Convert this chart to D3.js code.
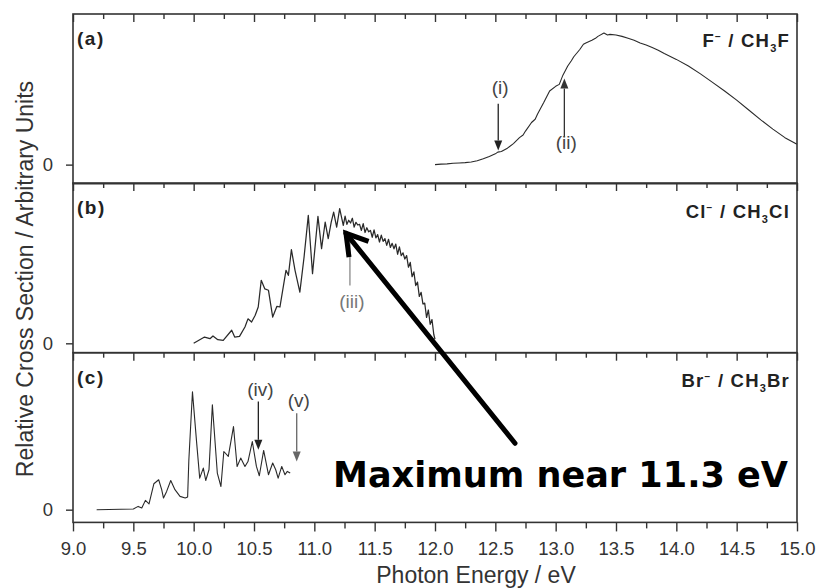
<!DOCTYPE html>
<html>
<head>
<meta charset="utf-8">
<script src="https://cdn.jsdelivr.net/npm/d3@7"></script>
<style>
  html,body{margin:0;padding:0;background:#fff;}
  svg{display:block;}
</style>
</head>
<body>
<svg id="chart" width="820" height="588"></svg>
<script>
// ---------------- DATA ----------------
const xTicksMajor = [9.0, 9.5, 10.0, 10.5, 11.0, 11.5, 12.0, 12.5, 13.0, 13.5, 14.0, 14.5, 15.0];
const xTicksMinor = [9.25, 9.75, 10.25, 10.75, 11.25, 11.75, 12.25, 12.75, 13.25, 13.75, 14.25, 14.75];
const yTickValues = [0];

// (a) F- / CH3F
const aEnergy = [12.00,12.05,12.10,12.15,12.20,12.25,12.30,12.35,12.40,12.45,12.50,12.52,12.55,12.60,12.65,12.70,12.73,12.75,12.80,12.83,12.85,12.90,12.95,13.00,13.03,13.06,13.10,13.13,13.15,13.20,13.23,13.25,13.30,13.33,13.35,13.40,13.43,13.45,13.50,13.55,13.60,13.65,13.70,13.75,13.80,13.85,13.90,14.00,14.10,14.20,14.30,14.40,14.50,14.60,14.70,14.80,14.90,15.00];
const aValue  = [0.000,0.004,0.006,0.010,0.012,0.015,0.020,0.030,0.045,0.062,0.082,0.095,0.100,0.125,0.160,0.205,0.225,0.255,0.320,0.345,0.385,0.470,0.560,0.595,0.610,0.680,0.750,0.790,0.820,0.875,0.915,0.925,0.945,0.960,0.975,1.000,0.985,0.990,0.985,0.975,0.960,0.945,0.925,0.910,0.890,0.870,0.845,0.800,0.750,0.690,0.625,0.560,0.490,0.415,0.340,0.270,0.205,0.155];

// (b) Cl- / CH3Cl
const bEnergy = [10.00,10.09,10.135,10.16,10.20,10.245,10.315,10.34,10.38,10.425,10.45,10.48,10.51,10.535,10.56,10.59,10.62,10.655,10.69,10.715,10.765,10.785,10.81,10.84,10.88,10.915,10.95,10.985,11.03,11.06,11.09,11.115,11.14,11.16,11.185,11.21,11.24,11.255,11.27,11.285,11.30,11.315,11.33,11.345,11.36,11.375,11.39,11.405,11.42,11.435,11.45,11.465,11.48,11.495,11.51,11.525,11.54,11.555,11.57,11.585,11.60,11.615,11.63,11.645,11.66,11.675,11.69,11.705,11.72,11.735,11.75,11.765,11.78,11.795,11.81,11.825,11.84,11.855,11.87,11.885,11.90,11.915,11.93,11.945,11.96,11.975,11.99,12.00];
const bValue  = [0.000,0.046,0.034,0.054,0.027,0.022,0.096,0.046,0.051,0.120,0.180,0.157,0.206,0.267,0.463,0.400,0.390,0.193,0.272,0.267,0.537,0.500,0.689,0.537,0.377,0.635,0.941,0.512,0.934,0.696,0.892,0.770,0.892,0.965,0.855,0.990,0.868,0.935,0.875,0.905,0.885,0.920,0.855,0.890,0.870,0.875,0.830,0.880,0.815,0.850,0.820,0.830,0.780,0.835,0.775,0.800,0.745,0.795,0.750,0.770,0.720,0.765,0.705,0.735,0.695,0.730,0.655,0.710,0.645,0.665,0.620,0.645,0.560,0.595,0.490,0.525,0.425,0.450,0.345,0.375,0.290,0.295,0.190,0.245,0.140,0.175,0.065,0.030];

// (c) Br- / CH3Br
const cEnergy = [9.196,9.50,9.54,9.57,9.60,9.63,9.67,9.71,9.735,9.75,9.776,9.81,9.845,9.887,9.93,9.95,9.96,9.99,10.025,10.05,10.08,10.10,10.127,10.155,10.18,10.196,10.226,10.25,10.287,10.33,10.36,10.39,10.425,10.45,10.486,10.52,10.544,10.58,10.62,10.655,10.68,10.70,10.73,10.757,10.776,10.80];
const cValue  = [0.000,0.006,0.028,0.014,0.079,0.050,0.220,0.254,0.170,0.099,0.155,0.248,0.170,0.113,0.099,0.108,0.420,1.000,0.565,0.268,0.353,0.248,0.339,0.890,0.536,0.311,0.197,0.494,0.452,0.706,0.367,0.438,0.367,0.409,0.579,0.367,0.288,0.503,0.297,0.396,0.339,0.268,0.367,0.297,0.325,0.311];

const panelLetters = ["(a)", "(b)", "(c)"];
const ionLabels = [["F","\u2212"," / CH","3","F"],["Cl","\u2212"," / CH","3","Cl"],["Br","\u2212"," / CH","3","Br"]];

// annotations: panel, energy, tail value, tip value, label value, label
const markerPanel = [0, 0, 1, 2, 2];
const markerEnergy = [12.524, 13.072, 11.295, 10.536, 10.854];
const markerTail = [0.463, 0.209, 0.426, 0.918, 0.819];
const markerTip = [0.107, 0.654, 0.750, 0.508, 0.410];
const markerLabelValue = [0.534, 0.122, 0.260, 0.966, 0.873];
const markerLabels = ["(i)", "(ii)", "(iii)", "(iv)", "(v)"];
const markerHead = [true, true, false, true, true];
const markerColor = ["#222", "#333", "#8a8a8a", "#222", "#666"];

// big annotation arrow (energy, panel-b value)
const bigArrowTail = [12.663, -0.735];
const bigArrowTip = [11.262, 0.809];
const bigText = "Maximum near 11.3 eV";

// ---------------- LAYOUT ----------------
const FONT = '"Liberation Sans", Arial, sans-serif';
const svg = d3.select("#chart");
const left = 73, right = 797;
const panelTop = [14, 183, 352.7];
const panelH = 169.7;
const yDomains = [[-0.145, 1.145], [-0.069, 1.179], [-0.108, 1.333]];
const axisColor = "#333";

const x = d3.scaleLinear().domain([9, 15]).range([left, right]);
const ys = panelTop.map((t, i) => d3.scaleLinear().domain(yDomains[i]).range([t + panelH, t]));

const series = [
  aEnergy.map((e, i) => [e, aValue[i]]),
  bEnergy.map((e, i) => [e, bValue[i]]),
  cEnergy.map((e, i) => [e, cValue[i]])
];

ys.forEach((y, p) => {
  const g = svg.append("g");
  const line = d3.line().x(d => x(d[0])).y(d => y(d[1]));
  g.append("path").datum(series[p]).attr("d", line)
    .attr("fill", "none").attr("stroke", "#2a2a2a").attr("stroke-width", p === 1 ? 1.25 : 1.1)
    .attr("stroke-linejoin", "round");

  const top = panelTop[p];
  const tMaj = g.append("g").attr("transform", `translate(0,${top})`)
    .call(d3.axisBottom(x).tickValues(xTicksMajor).tickSize(8).tickFormat(""));
  const tMin = g.append("g").attr("transform", `translate(0,${top})`)
    .call(d3.axisBottom(x).tickValues(xTicksMinor).tickSize(5).tickFormat(""));
  [tMaj, tMin].forEach(a => {
    a.select(".domain").remove();
    a.selectAll("line").attr("stroke", axisColor).attr("stroke-width", 1.4);
  });

  const ya = g.append("g").attr("transform", `translate(${left},0)`)
    .call(d3.axisLeft(y).tickValues(yTickValues).tickSize(7).tickPadding(13).tickFormat(d3.format("d")));
  ya.select(".domain").remove();
  ya.selectAll("line").attr("stroke", axisColor).attr("stroke-width", 1.4);
  ya.selectAll("text").attr("font-size", 18.5).attr("fill", "#333").attr("font-family", FONT);

  g.append("rect").attr("x", left).attr("y", top).attr("width", right - left).attr("height", panelH)
    .attr("fill", "none").attr("stroke", axisColor).attr("stroke-width", 1.6);

  g.append("text").attr("x", 77).attr("y", top + 31).text(panelLetters[p]).attr("font-family", FONT)
    .attr("font-size", 19).attr("font-weight", "bold").attr("letter-spacing", 1.5).attr("fill", "#222");

  const parts = ionLabels[p];
  const t = g.append("text").attr("x", 790).attr("y", top + (p === 0 ? 33 : 34.5)).attr("font-family", FONT)
    .attr("text-anchor", "end").attr("font-size", 18.5).attr("font-weight", "bold")
    .attr("fill", "#222").attr("letter-spacing", 1.2);
  t.append("tspan").text(parts[0]);
  t.append("tspan").attr("dy", -7).attr("font-size", 10).text(parts[1]);
  t.append("tspan").attr("dy", 7).text(parts[2]);
  t.append("tspan").attr("dy", 5).attr("font-size", 11).text(parts[3]);
  t.append("tspan").attr("dy", -5).text(parts[4]);
});

const bottomY = panelTop[2] + panelH;
const bMaj = svg.append("g").attr("transform", `translate(0,${bottomY})`)
  .call(d3.axisBottom(x).tickValues(xTicksMajor).tickSize(9).tickPadding(10).tickFormat(d3.format(".1f")));
const bMin = svg.append("g").attr("transform", `translate(0,${bottomY})`)
  .call(d3.axisBottom(x).tickValues(xTicksMinor).tickSize(6).tickFormat(""));
[bMaj, bMin].forEach(a => {
  a.select(".domain").remove();
  a.selectAll("line").attr("stroke", axisColor).attr("stroke-width", 1.4);
});
bMaj.selectAll("text").attr("font-size", 18.5).attr("fill", "#333").attr("font-family", FONT);

svg.append("text").attr("x", 476).attr("y", 583).attr("text-anchor", "middle").attr("font-family", FONT)
  .attr("font-size", 23).attr("fill", "#333").text("Photon Energy / eV");
svg.append("text").attr("transform", "translate(33,279) rotate(-90)").attr("text-anchor", "middle")
  .attr("font-family", FONT).attr("font-size", 23).attr("fill", "#333")
  .text("Relative Cross Section / Arbitrary Units");

markerLabels.forEach((lab, i) => {
  const y = ys[markerPanel[i]];
  const px = x(markerEnergy[i]);
  const y0 = y(markerTail[i]), y1 = y(markerTip[i]);
  const dir = Math.sign(y1 - y0);
  const col = markerColor[i];
  const headLen = 10, headW = 4;
  svg.append("line").attr("x1", px).attr("x2", px).attr("y1", y0)
    .attr("y2", markerHead[i] ? y1 - dir * headLen : y1)
    .attr("stroke", col).attr("stroke-width", 1.3);
  if (markerHead[i]) {
    svg.append("path")
      .attr("d", `M${px},${y1} L${px - headW},${y1 - dir * headLen} L${px + headW},${y1 - dir * headLen} Z`)
      .attr("fill", col);
  }
  svg.append("text").attr("x", px + 2).attr("y", y(markerLabelValue[i])).attr("text-anchor", "middle")
    .attr("font-family", FONT).attr("font-size", 19).attr("fill", i === 2 ? "#777" : "#444").text(lab);
});

const yb = ys[1];
const tx = x(bigArrowTail[0]), ty = yb(bigArrowTail[1]);
const hx = x(bigArrowTip[0]), hy = yb(bigArrowTip[1]);
svg.append("line").attr("x1", tx).attr("y1", ty).attr("x2", hx).attr("y2", hy)
  .attr("stroke", "#000").attr("stroke-width", 5).attr("stroke-linecap", "round");
const ang = Math.atan2(ty - hy, tx - hx);
const armLen = 24, spread = 0.55;
const a1 = [hx + armLen * Math.cos(ang - spread), hy + armLen * Math.sin(ang - spread)];
const a2 = [hx + armLen * Math.cos(ang + spread), hy + armLen * Math.sin(ang + spread)];
svg.append("path").attr("d", `M${a1[0]},${a1[1]} L${hx},${hy} L${a2[0]},${a2[1]}`)
  .attr("fill", "none").attr("stroke", "#000").attr("stroke-width", 5)
  .attr("stroke-linejoin", "miter").attr("stroke-linecap", "butt");

svg.append("text").attr("x", 333).attr("y", 486.5)
  .attr("font-family", '"DejaVu Sans", Verdana, sans-serif').attr("font-weight", "bold")
  .attr("font-size", 35).attr("fill", "#000")
  .attr("textLength", 455).attr("lengthAdjust", "spacingAndGlyphs")
  .text(bigText);
</script>
</body>
</html>
